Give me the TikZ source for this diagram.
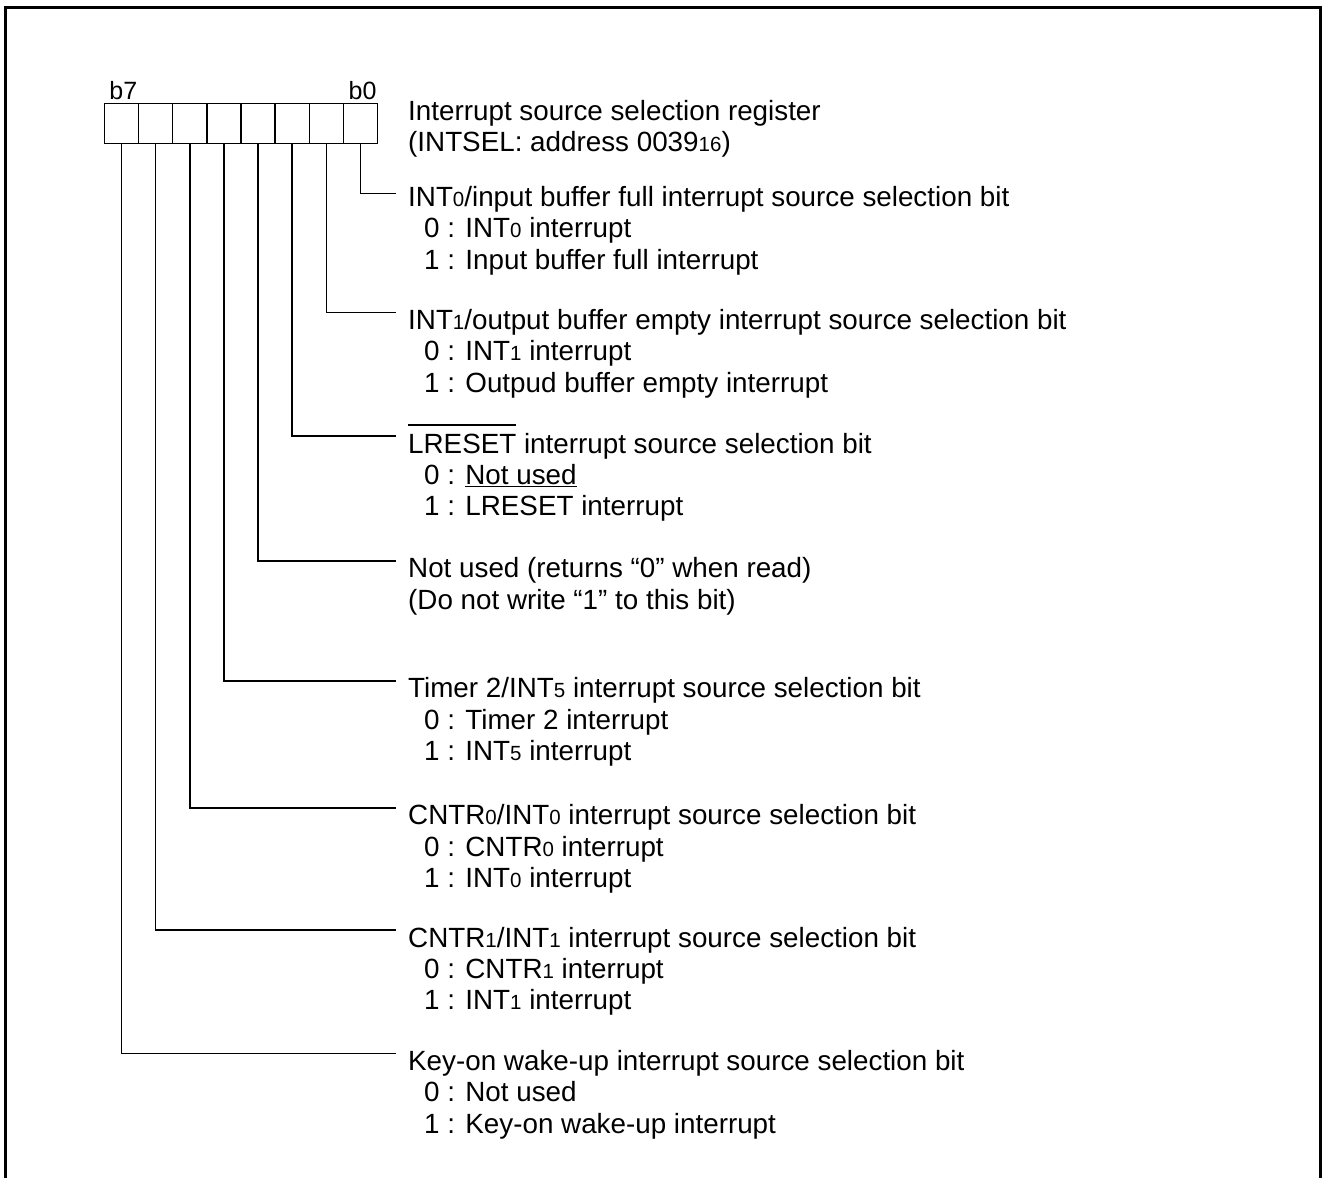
\documentclass[tikz,border=0pt]{standalone}
\usepackage{fontspec}
\setsansfont{Liberation Sans}
\newcommand*{\cellw}{34.17}
\newcommand*{\cellh}{40}
\newcommand*{\regx }{104.3}
\newcommand*{\regy }{123.3}
\newcommand*{\leadx}{396}
\newcommand*{\indt }{16}
\newcommand*{\lsp  }{31.3}
\newcommand*{\sm}[1]{{\fontsize{20.5}{22}\selectfont #1}}
\newcommand*{\ovl}[1]{\setbox0\hbox{#1}\rlap{\rule[\dimexpr\ht0+8pt\relax]{\wd0}{1.8pt}}\box0\relax}

\begin{document}
\begin{tikzpicture}[x=1pt, y=-1pt, font=\sffamily\fontsize{27.8}{31.3}\selectfont,
    bitcell/.style={draw, line width=1.6pt, minimum width=\cellw pt, minimum height=\cellh pt, inner sep=0pt},
    bitlbl/.style={anchor=base, inner sep=0pt, xshift=2pt, yshift=3.5pt, font=\sffamily\fontsize{25}{28}\selectfont},
    head/.style={anchor=north west, inner xsep=12pt, inner ysep=0pt, text height=17pt, text depth=5pt},
    opt/.style={anchor=base west, inner sep=0pt},
    lead/.style={line width=1.6pt}]
    \useasboundingbox (0,0) rectangle (1322,1178);
    \draw [line width=3pt] (5,1178) -- (5,7.5) -- (1320.5,7.5) -- (1320.5,1178);
    % register
    \node [bitcell] (c7) at (\regx+0.5*\cellw, \regy) {};
    \node [bitcell] (c6) at (\regx+1.5*\cellw, \regy) {};
    \node [bitcell] (c5) at (\regx+2.5*\cellw, \regy) {};
    \node [bitcell] (c4) at (\regx+3.5*\cellw, \regy) {};
    \node [bitcell] (c3) at (\regx+4.5*\cellw, \regy) {};
    \node [bitcell] (c2) at (\regx+5.5*\cellw, \regy) {};
    \node [bitcell] (c1) at (\regx+6.5*\cellw, \regy) {};
    \node [bitcell] (c0) at (\regx+7.5*\cellw, \regy) {};
    \node [bitlbl] (l7) at (c7.north) {b7};
    \node [bitlbl] (l0) at (c0.north) {b0};
    \node [opt] (t1) at (408,120) {Interrupt source selection register};
    \node [opt] (t2) at ([shift={(0,\lsp)}]t1.base west) {(INTSEL: address 0039\sm{16})};
    % b0
    \node [head] (f0) at (\leadx, 189.3) {INT\sm{0}/input buffer full interrupt source selection bit};
    \node [opt] (o0a) at ([shift={(12+\indt,\lsp)}]f0.base west) {0 : INT\sm{0} interrupt};
    \node [opt] (o0b) at ([shift={(12+\indt,2*\lsp)}]f0.base west) {1 : Input buffer full interrupt};
    % b1
    \node [head] (f1) at (\leadx, 312.3) {INT\sm{1}/output buffer empty interrupt source selection bit};
    \node [opt] (o1a) at ([shift={(12+\indt,\lsp)}]f1.base west) {0 : INT\sm{1} interrupt};
    \node [opt] (o1b) at ([shift={(12+\indt,2*\lsp)}]f1.base west) {1 : Outpud buffer empty interrupt};
    % b2
    \node [head] (f2) at (\leadx, 436) {\ovl{LRESET} interrupt source selection bit};
    \node [opt] (o2a) at ([shift={(12+\indt,\lsp)}]f2.base west) {0 : \underline{Not used}};
    \node [opt] (o2b) at ([shift={(12+\indt,2*\lsp)}]f2.base west) {1 : LRESET interrupt};
    % b3
    \node [head] (f3) at (\leadx, 560.7) {Not used (returns “0” when read)};
    \node [opt] (o3a) at ([shift={(12,\lsp)}]f3.base west) {(Do not write “1” to this bit)};
    % b4
    \node [head] (f4) at (\leadx, 680.7) {Timer 2/INT\sm{5} interrupt source selection bit};
    \node [opt] (o4a) at ([shift={(12+\indt,\lsp)}]f4.base west) {0 : Timer 2 interrupt};
    \node [opt] (o4b) at ([shift={(12+\indt,2*\lsp)}]f4.base west) {1 : INT\sm{5} interrupt};
    % b5
    \node [head] (f5) at (\leadx, 807.7) {CNTR\sm{0}/INT\sm{0} interrupt source selection bit};
    \node [opt] (o5a) at ([shift={(12+\indt,\lsp)}]f5.base west) {0 : CNTR\sm{0} interrupt};
    \node [opt] (o5b) at ([shift={(12+\indt,2*\lsp)}]f5.base west) {1 : INT\sm{0} interrupt};
    % b6
    \node [head] (f6) at (\leadx, 930) {CNTR\sm{1}/INT\sm{1} interrupt source selection bit};
    \node [opt] (o6a) at ([shift={(12+\indt,\lsp)}]f6.base west) {0 : CNTR\sm{1} interrupt};
    \node [opt] (o6b) at ([shift={(12+\indt,2*\lsp)}]f6.base west) {1 : INT\sm{1} interrupt};
    % b7
    \node [head] (f7) at (\leadx, 1053.3) {Key-on wake-up interrupt source selection bit};
    \node [opt] (o7a) at ([shift={(12+\indt,\lsp)}]f7.base west) {0 : Not used};
    \node [opt] (o7b) at ([shift={(12+\indt,2*\lsp)}]f7.base west) {1 : Key-on wake-up interrupt};
    % leads
    \draw [lead] (c0.south) |- ([yshift=-4pt]f0.north west);
    \draw [lead] (c1.south) |- (f1.north west);
    \draw [lead] (c2.south) |- (f2.north west);
    \draw [lead] (c3.south) |- (f3.north west);
    \draw [lead] (c4.south) |- (f4.north west);
    \draw [lead] (c5.south) |- (f5.north west);
    \draw [lead] (c6.south) |- (f6.north west);
    \draw [lead] (c7.south) |- (f7.north west);
\end{tikzpicture}
\end{document}
